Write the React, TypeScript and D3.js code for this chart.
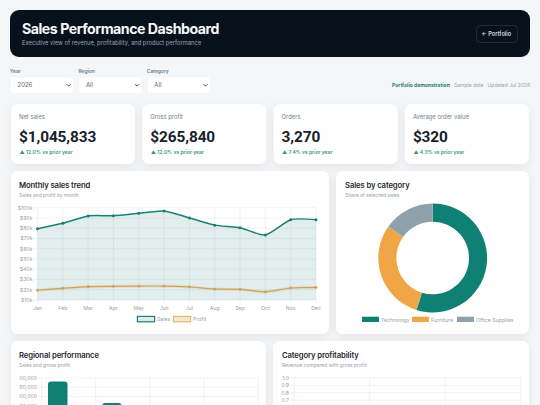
import React from 'react';
import * as d3 from 'd3';

const months = ['Jan', 'Feb', 'Mar', 'Apr', 'May', 'Jun', 'Jul', 'Aug', 'Sep', 'Oct', 'Nov', 'Dec'];
const salesK = [79.5, 84.8, 92, 92.2, 94.5, 96.8, 90, 83, 80.5, 73.4, 88.3, 88.3];
const profitK = [19.5, 21.4, 23, 23.3, 23.6, 23.6, 22.7, 20.7, 20.4, 18, 21.7, 22.3];

const categories = ['Technology', 'Furniture', 'Office Supplies'];
const categoryShare = [54.8, 30, 15.2];
const categoryColors = ['#0e8074', '#f0a645', '#8fa2ac'];

const regions = ['West', 'East', 'Central', 'South'];
const regionSales = [381000, 264000, 232000, 169000];
const regionProfit = [97000, 67000, 59000, 43000];
const regionTicks = [400000, 350000, 300000, 250000];
const profitabilityTicks = [1, 0.9, 0.8, 0.7];

const kpiLabels = ['Net sales', 'Gross profit', 'Orders', 'Average order value'];
const kpiValues = ['$1,045,833', '$265,840', '3,270', '$320'];
const kpiDeltas = ['12.0%', '12.0%', '7.4%', '4.3%'];

const filterLabels = ['Year', 'Region', 'Category'];
const filterValues = ['2026', 'All', 'All'];

const FONT = 'Inter, "Noto Sans", sans-serif';
const TEAL = '#1a7f74';
const TAN = '#c9a360';
const GRID = '#e9edef';
const MUTED = '#98a1a9';

const Card = ({ x, y, w, h }: { x: number; y: number; w: number; h: number }) => (
  <rect x={x} y={y} width={w} height={h} rx={7} fill="#fff" filter="url(#shadow)" />
);

const CardHead = ({ x, y, title, sub }: { x: number; y: number; title: string; sub: string }) => (
  <g>
    <text x={x} y={y} fontSize={7.7} fontWeight={600} letterSpacing={-0.12} fill="#1f2a33">{title}</text>
    <text x={x} y={y + 9} fontSize={4.95} fill={MUTED}>{sub}</text>
  </g>
);

function TrendChart() {
  const x = d3.scalePoint<string>().domain(months).range([37.5, 316]);
  const y = d3.scaleLinear().domain([10, 100]).range([300, 207.7]);
  const curve = d3.curveCardinal.tension(0.35);
  const line = d3.line<number>().x((_, i) => x(months[i])!).y(d => y(d)).curve(curve);
  const area = d3.area<number>().x((_, i) => x(months[i])!).y0(y(10)).y1(d => y(d)).curve(curve);
  return (
    <g>
      {y.ticks(10).map(t => (
        <g key={t}>
          <line x1={33.5} x2={316} y1={y(t)} y2={y(t)} stroke={GRID} strokeWidth={0.7} />
          <text x={32.5} y={y(t) + 1.9} textAnchor="end" fontSize={5.2} fill={MUTED}>${t}k</text>
        </g>
      ))}
      {months.map(m => (
        <g key={m}>
          <line x1={x(m)} x2={x(m)} y1={207.7} y2={303} stroke={GRID} strokeWidth={0.7} />
          <text x={x(m)} y={309.5} textAnchor="middle" fontSize={5.2} fill={MUTED}>{m}</text>
        </g>
      ))}
      <path d={area(salesK)!} fill={TEAL} fillOpacity={0.13} />
      <path d={line(profitK)!} fill="none" stroke="#f0a645" strokeOpacity={0.2} strokeWidth={3} />
      <path d={line(salesK)!} fill="none" stroke={TEAL} strokeWidth={1.5} />
      <path d={line(profitK)!} fill="none" stroke={TAN} strokeWidth={1.2} />
      {salesK.map((d, i) => <circle key={i} cx={x(months[i])} cy={y(d)} r={1.5} fill={TEAL} />)}
      {profitK.map((d, i) => <circle key={i} cx={x(months[i])} cy={y(d)} r={1.4} fill={TAN} />)}
      <rect x={137.4} y={316.4} width={17.2} height={5.4} fill="#dcecea" stroke={TEAL} strokeWidth={1.2} />
      <text x={157} y={321} fontSize={5.2} fill={MUTED}>Sales</text>
      <rect x={173.4} y={316.4} width={17.2} height={5.4} fill="#f3e6d6" stroke="#eeb36c" strokeWidth={1.2} />
      <text x={193} y={321} fontSize={5.2} fill={MUTED}>Profit</text>
    </g>
  );
}

function CategoryDonut() {
  const pie = d3.pie<number>().sort(null)(categoryShare);
  const arc = d3.arc<d3.PieArcDatum<number>>().innerRadius(36.3).outerRadius(54.4);
  const legendX = d3.scaleOrdinal<string, number>().domain(categories).range([362, 412, 457]);
  return (
    <g>
      <g transform="translate(432.7,258)">
        {pie.map((p, i) => <path key={i} d={arc(p)!} fill={categoryColors[i]} />)}
      </g>
      {categories.map((c, i) => (
        <g key={c}>
          <rect x={legendX(c)} y={316.7} width={17} height={5.3} fill={categoryColors[i]} />
          <text x={legendX(c) + 19} y={321.6} fontSize={5.2} fill={MUTED}>{c}</text>
        </g>
      ))}
    </g>
  );
}

function RegionChart() {
  const x = d3.scaleBand().domain(regions).range([41.5, 258]);
  const inner = d3.scaleBand().domain(['sales', 'profit']).range([0, x.bandwidth()]).paddingInner(0.1).paddingOuter(0.3);
  const y = d3.scaleLinear().domain([400000, 0]).range([378, 451.6]);
  const label = d3.format(',');
  return (
    <g>
      <clipPath id="regionTicks"><rect x={19} y={370} width={20} height={40} /></clipPath>
      {regionTicks.map(t => (
        <g key={t}>
          <line x1={38} x2={258} y1={y(t)} y2={y(t)} stroke={GRID} strokeWidth={0.7} />
          <text x={37} y={y(t) + 1.9} textAnchor="end" fontSize={5.2} fill={MUTED} clipPath="url(#regionTicks)">{label(t)}</text>
        </g>
      ))}
      {[...regions, ''].map((r, i) => {
        const px = 41.5 + i * x.step();
        return <line key={i} x1={px} x2={px} y1={378} y2={410} stroke={GRID} strokeWidth={0.7} />;
      })}
      {regions.map((r, i) => (
        <g key={r}>
          <path
            d={`M${x(r)! + inner('sales')!},${y(0)}V${y(regionSales[i]) + 3}q0,-3 3,-3h${inner.bandwidth() - 6}q3,0 3,3V${y(0)}Z`}
            fill="#0e8074"
          />
          <rect x={x(r)! + inner('profit')!} y={y(regionProfit[i])} width={inner.bandwidth()} height={y(0) - y(regionProfit[i])} fill="#f0a645" />
        </g>
      ))}
    </g>
  );
}

function ProfitabilityChart() {
  const x = d3.scaleBand().domain(categories).range([294, 521]);
  const y = d3.scaleLinear().domain([1, 0]).range([377.8, 452.8]);
  return (
    <g>
      {profitabilityTicks.map(t => (
        <g key={t}>
          <line x1={290} x2={521} y1={y(t)} y2={y(t)} stroke={GRID} strokeWidth={0.7} />
          <text x={289} y={y(t) + 1.9} textAnchor="end" fontSize={5.2} fill={MUTED}>{d3.format('.1f')(t)}</text>
        </g>
      ))}
      {[...categories, ''].map((c, i) => {
        const px = 294 + i * x.step();
        return <line key={i} x1={px} x2={px} y1={377.8} y2={410} stroke={GRID} strokeWidth={0.7} />;
      })}
    </g>
  );
}

export default function App() {
  return (
    <svg
      width={540}
      height={405}
      viewBox="0 0 540 405"
      fontFamily={FONT}
      style={{ position: 'fixed', left: 0, top: 0, display: 'block' }}
    >
      <defs>
        <filter id="shadow" x="-15%" y="-15%" width="130%" height="135%">
          <feDropShadow dx={0} dy={3} stdDeviation={5} floodColor="#0f2230" floodOpacity={0.07} />
        </filter>
      </defs>
      <rect width={540} height={405} fill="#f4f6f8" />

      {/* header */}
      <rect x={10} y={10} width={520} height={47} rx={9} fill="#07111c" />
      <text x={22} y={33.5} fontSize={14.2} fontWeight={700} letterSpacing={-0.5} fill="#f6f8fa">Sales Performance Dashboard</text>
      <text x={22} y={45} fontSize={5.8} fill="#98a5b1">Executive view of revenue, profitability, and product performance</text>
      <rect x={476.5} y={25.5} width={41} height={17} rx={4} fill="none" stroke="#26323f" strokeWidth={0.8} />
      <text x={481.5} y={36} fontSize={5.6} fontWeight={600} fill="#d7dee5">← Portfolio</text>

      {/* filters */}
      {filterLabels.map((l, i) => {
        const fx = 10.5 + i * 68.4;
        return (
          <g key={l}>
            <text x={fx - 0.5} y={72.5} fontSize={4.9} fontWeight={600} fill="#6f7a84">{l}</text>
            <rect x={fx} y={77} width={63} height={16.5} rx={3} fill="#fff" stroke="#eceff2" strokeWidth={0.5} />
            <text x={fx + 7} y={87.4} fontSize={6} fill="#5d6871">{filterValues[i]}</text>
            <path d={`M${fx + 56.2},84.2l2,2l2,-2`} fill="none" stroke="#333d46" strokeWidth={0.9} />
          </g>
        );
      })}
      <text x={530} y={87.2} textAnchor="end" fontSize={5} fill={MUTED}>
        <tspan fontWeight={700} fill={TEAL}>Portfolio demonstration</tspan>
        <tspan> · Sample data · Updated Jul 2026</tspan>
      </text>

      {/* kpi cards */}
      {kpiLabels.map((l, i) => {
        const cx = 11 + i * 131.3;
        return (
          <g key={l}>
            <Card x={cx} y={104} w={124} h={60} />
            <text x={cx + 8} y={119} fontSize={5.9} fill="#727d86">{l}</text>
            <text x={cx + 8} y={142} fontFamily="Roboto" fontSize={15.4} fontWeight={700} letterSpacing={-0.1} fill="#16222b">{kpiValues[i]}</text>
            <text x={cx + 8.5} y={153.6} fontSize={5} fontWeight={600} fill="#2f9b78">▲ {kpiDeltas[i]} vs prior year</text>
          </g>
        );
      })}

      {/* chart cards */}
      <Card x={11} y={171} w={318} h={163} />
      <CardHead x={19} y={188} title="Monthly sales trend" sub="Sales and profit by month" />
      <TrendChart />

      <Card x={336} y={171} w={193} h={163} />
      <CardHead x={345} y={188} title="Sales by category" sub="Share of selected sales" />
      <CategoryDonut />

      <Card x={11} y={341} w={255} h={100} />
      <CardHead x={19} y={358} title="Regional performance" sub="Sales and gross profit" />
      <RegionChart />

      <Card x={273} y={341} w={256} h={100} />
      <CardHead x={282} y={358} title="Category profitability" sub="Revenue compared with gross profit" />
      <ProfitabilityChart />
    </svg>
  );
}
